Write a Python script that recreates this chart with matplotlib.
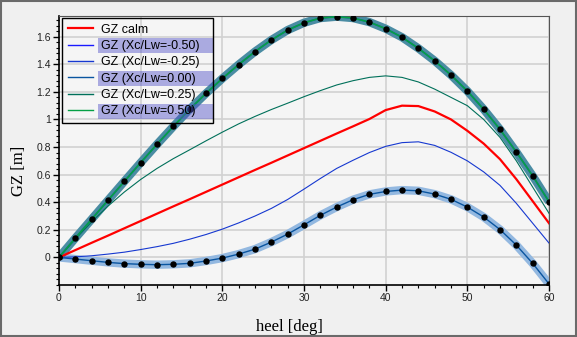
import numpy as np
import matplotlib
matplotlib.use("Agg")
import matplotlib.pyplot as plt
from matplotlib.lines import Line2D
from matplotlib.patches import Rectangle
from matplotlib.ticker import MultipleLocator, FixedLocator, FormatStrFormatter

# heel angles [deg]
heel = list(range(0, 61, 2))

gz_calm = [0.000, 0.053, 0.106, 0.158, 0.211, 0.264, 0.317, 0.370, 0.422, 0.475,
           0.528, 0.581, 0.634, 0.686, 0.739, 0.792, 0.845, 0.898, 0.950, 1.003,
           1.068, 1.100, 1.097, 1.058, 1.000, 0.918, 0.825, 0.712, 0.567, 0.408, 0.248]
gz_m050 = [0.000, 0.140, 0.277, 0.414, 0.551, 0.687, 0.820, 0.949, 1.074, 1.189,
           1.297, 1.398, 1.492, 1.576, 1.648, 1.701, 1.735, 1.745, 1.735, 1.706,
           1.658, 1.596, 1.516, 1.425, 1.322, 1.206, 1.074, 0.928, 0.764, 0.591, 0.404]
gz_m025 = [0.000, 0.004, 0.012, 0.024, 0.038, 0.057, 0.078, 0.102, 0.132, 0.166,
           0.205, 0.250, 0.300, 0.355, 0.420, 0.495, 0.572, 0.645, 0.704, 0.760,
           0.805, 0.832, 0.838, 0.812, 0.762, 0.700, 0.620, 0.522, 0.392, 0.248, 0.104]
gz_000 = [0.000, -0.012, -0.024, -0.036, -0.045, -0.050, -0.053, -0.050, -0.043, -0.026,
          -0.005, 0.024, 0.060, 0.111, 0.169, 0.236, 0.305, 0.365, 0.418, 0.457,
          0.478, 0.488, 0.483, 0.459, 0.421, 0.365, 0.293, 0.202, 0.089, -0.043, -0.192]
gz_p025 = [0.000, 0.132, 0.258, 0.372, 0.474, 0.565, 0.645, 0.716, 0.780, 0.845,
           0.908, 0.968, 1.022, 1.072, 1.118, 1.165, 1.209, 1.250, 1.281, 1.305,
           1.316, 1.305, 1.272, 1.220, 1.160, 1.100, 1.000, 0.870, 0.700, 0.510, 0.320]
gz_p050 = gz_m050

y_ticks = [0, 0.2, 0.4, 0.6, 0.8, 1.0, 1.2, 1.4, 1.6]

labels = ['GZ calm', 'GZ (Xc/Lw=-0.50)', 'GZ (Xc/Lw=-0.25)',
          'GZ (Xc/Lw=0.00)', 'GZ (Xc/Lw=0.25)', 'GZ (Xc/Lw=0.50)']
highlighted = [1, 3, 5]

col_calm = '#ff0000'
col_m050 = '#1a1aff'
col_m025 = '#1638d0'
col_000 = '#0a55a0'
col_p025 = '#00705a'
col_p050 = '#05a045'

fig = plt.figure(figsize=(5.77, 3.37), dpi=100, facecolor='#f0f0f0')
fig.patches.append(Rectangle((0.001, 0.002), 0.997, 0.996, transform=fig.transFigure,
                             fill=False, edgecolor='#6a6a6a', linewidth=1.5))
ax = fig.add_axes([59 / 577, 52 / 337, 490 / 577, 269 / 337])
ax.set_facecolor('#f5f5f5')

# highlight bands of selected curves
ax.plot(heel, gz_000, color='#93b8e0', lw=6.0, solid_capstyle='butt', zorder=2)
ax.plot(heel, gz_p050, color='#4a8ca3', lw=6.0, solid_capstyle='butt', zorder=2)

ax.plot(heel, gz_m025, color=col_m025, lw=0.8, zorder=3)
ax.plot(heel, gz_p025, color=col_p025, lw=0.8, zorder=3)
ax.plot(heel, gz_calm, color=col_calm, lw=1.6, zorder=3)
ax.plot(heel, gz_000, color=col_000, lw=1.0, zorder=3,
        marker='o', ms=3.6, mfc='black', mec='black')
ax.plot(heel, gz_m050, color=col_m050, lw=1.0, zorder=3)
ax.plot(heel, gz_p050, color=col_p050, lw=1.3, zorder=3,
        marker='o', ms=3.6, mfc='black', mec='black')

ax.set_xlim(0, 60)
ax.set_ylim(-0.2, 1.75)
ax.xaxis.set_major_locator(MultipleLocator(10))
ax.xaxis.set_minor_locator(MultipleLocator(2))
ax.yaxis.set_major_locator(FixedLocator(y_ticks))
ax.yaxis.set_minor_locator(MultipleLocator(0.04))
ax.yaxis.set_major_formatter(FormatStrFormatter('%g'))
ax.grid(True, which='major', color='#d2d2d2', lw=1.2)
ax.set_axisbelow(True)
ax.tick_params(which='major', length=4, width=1, labelsize=7.5, labelcolor='#222222', pad=2)
ax.tick_params(which='minor', length=2.5, width=0.8)
for s in ['top', 'right']:
    ax.spines[s].set_color('#555555')
for s in ['left', 'bottom']:
    ax.spines[s].set_color('black')
    ax.spines[s].set_linewidth(1.2)
for t in ax.get_xticklabels() + ax.get_yticklabels():
    t.set_family(['Liberation Sans', 'DejaVu Sans'])

fig.text(289 / 577, 1 - 327 / 337, 'heel [deg]', ha='center', va='center',
         family=['Liberation Serif', 'DejaVu Serif'], fontsize=12)
fig.text(19 / 577, 1 - 171 / 337, 'GZ [m]', ha='center', va='center', rotation=90,
         family=['Liberation Serif', 'DejaVu Serif'], fontsize=12)

handles = [Line2D([], [], color=col_calm, lw=1.6),
           Line2D([], [], color=col_m050, lw=1.0),
           Line2D([], [], color=col_m025, lw=1.0),
           Line2D([], [], color=col_000, lw=1.0),
           Line2D([], [], color=col_p025, lw=1.0),
           Line2D([], [], color=col_p050, lw=1.0)]
leg = ax.legend(handles, labels, loc='upper left', bbox_to_anchor=(0.006, 0.993),
                borderaxespad=0, frameon=False, handlelength=2.0, handletextpad=0.65,
                labelspacing=0.35, borderpad=0.45,
                prop={'family': ['Liberation Sans', 'DejaVu Sans'], 'size': 9})
leg.set_zorder(5)

# legend box drawn by hand so it can be a bit wider than the text
fig.canvas.draw()
inv = ax.transAxes.inverted()
lb = leg.get_window_extent()
box_right = lb.x1 + 8
(bx0, by0), (bx1, by1) = inv.transform([(lb.x0, lb.y0), (box_right, lb.y1)])
ax.add_patch(Rectangle((bx0, by0), bx1 - bx0, by1 - by0, transform=ax.transAxes,
                       fill=False, edgecolor='black', lw=1.0, zorder=5))

# selection highlight behind chosen legend labels
for i in highlighted:
    tb = leg.get_texts()[i].get_window_extent()
    yc = (tb.y0 + tb.y1) / 2
    (x0, y0), (x1, y1) = inv.transform([(tb.x0 - 3, yc - 7.5), (box_right, yc + 7.5)])
    ax.add_patch(Rectangle((x0, y0), x1 - x0, y1 - y0, transform=ax.transAxes,
                           facecolor='#5050c8', alpha=0.45, edgecolor='none', zorder=4))

fig.savefig('out.png', dpi=100, facecolor=fig.get_facecolor())
